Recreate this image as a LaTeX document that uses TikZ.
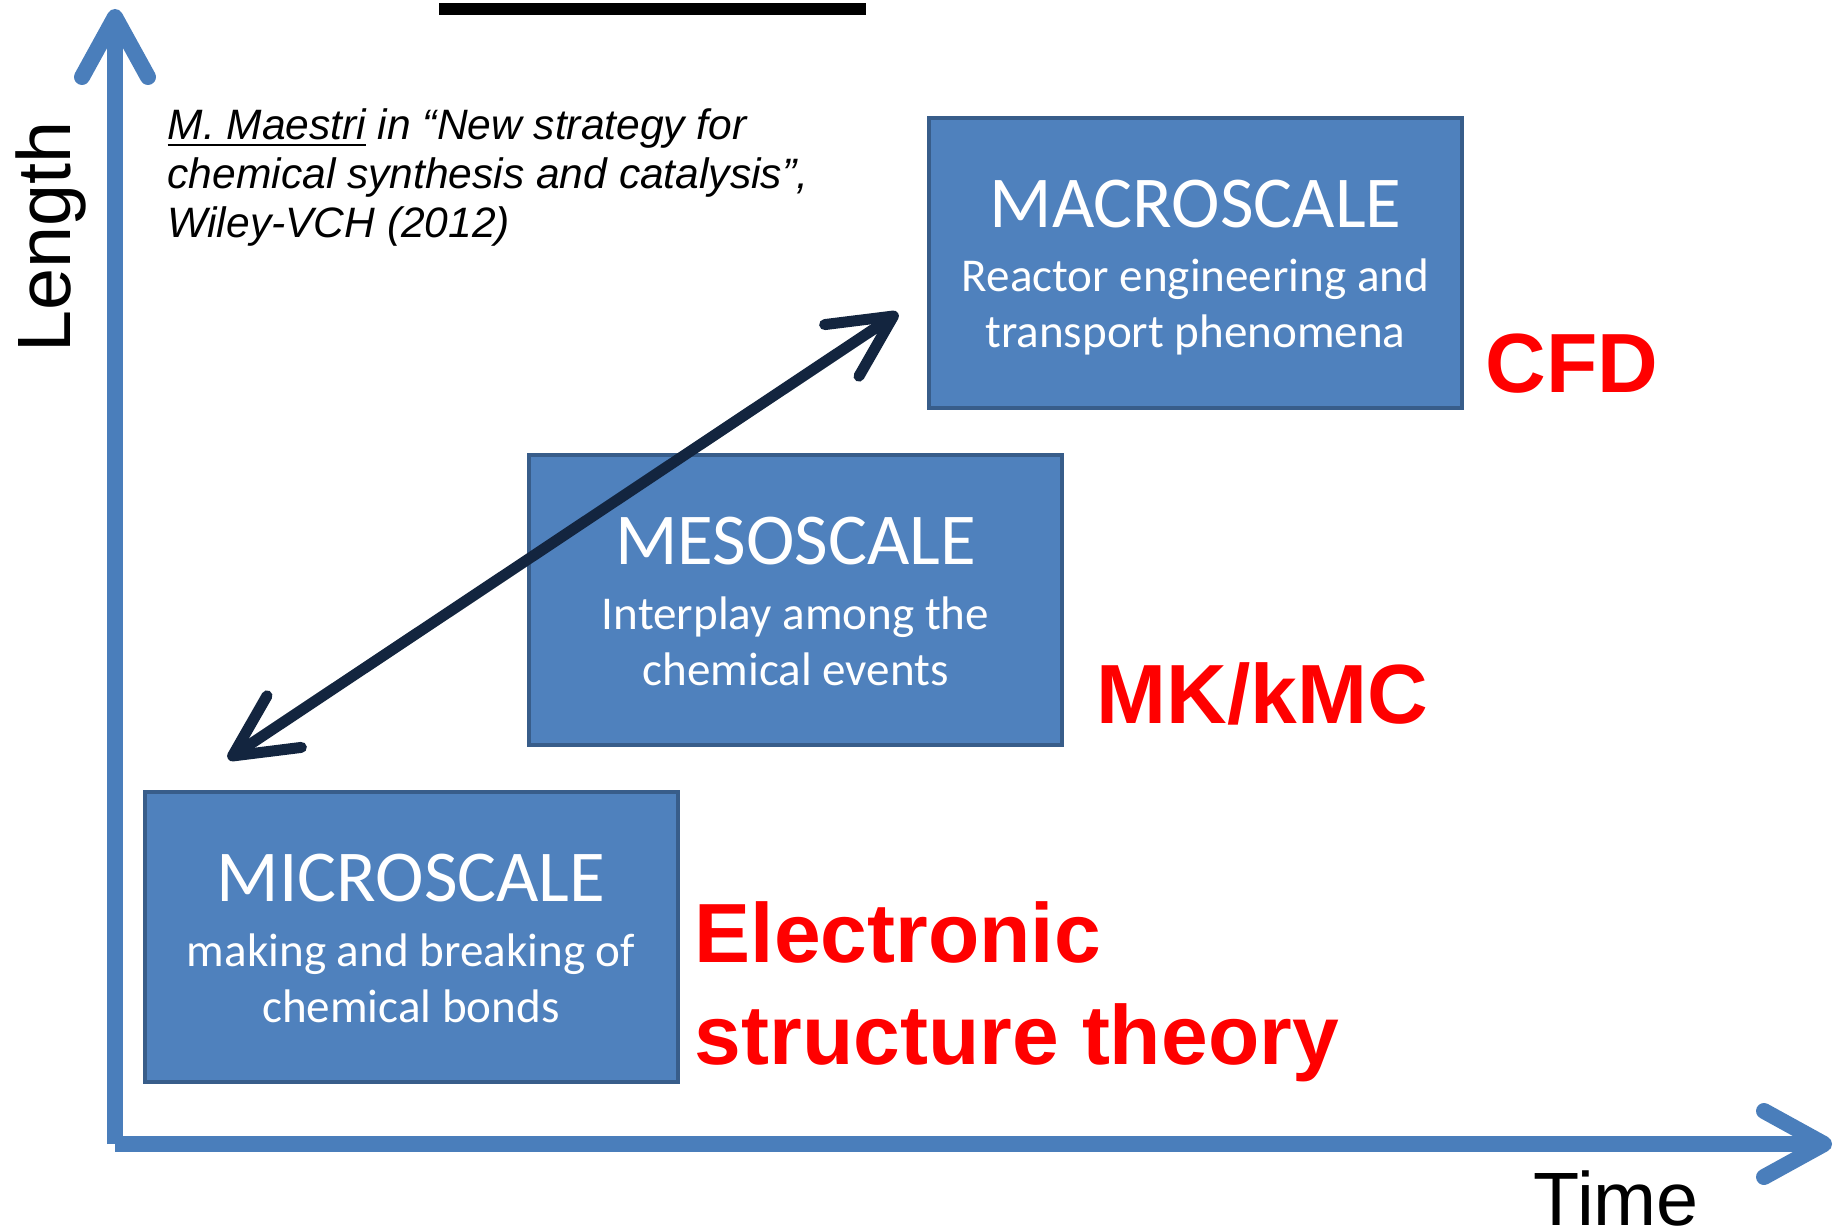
\documentclass[tikz,border=0pt]{standalone}
\usepackage{fontspec}
\setmainfont{Liberation Sans}
\newfontfamily\calibri{Carlito}
\usetikzlibrary{arrows.meta,positioning}
\definecolor{boxfill}{HTML}{4F81BD}
\definecolor{boxline}{HTML}{385D8A}
\definecolor{axisblue}{HTML}{4A7EBB}
\definecolor{navy}{HTML}{13253F}

\begin{document}
\begin{tikzpicture}[x=0.1mm,y=-0.1mm,
    scale box/.style={draw=boxline,fill=boxfill,line width=0.4mm,minimum width=53.3mm,minimum height=29mm,inner sep=0},
    head/.style={anchor=base,inner sep=0,text=white,font=\calibri\fontsize{20.8}{25}\selectfont},
    sub/.style={anchor=base,inner sep=0,text=white,align=center,font=\calibri\fontsize{13.4}{16}\selectfont},
    method/.style={anchor=base west,inner sep=0,text=red,align=left,font=\bfseries\fontsize{23.9}{29}\selectfont},
    axis label/.style={anchor=base,inner sep=0,font=\fontsize{21.5}{25}\selectfont},
    cite/.style={anchor=base west,inner sep=0,align=left,font=\itshape\fontsize{12.1}{14}\selectfont},
    axis/.style={axisblue,line width=1.6mm,-{Straight Barb[length=6mm,width=6.6mm,round]}},
    scale arrow/.style={navy,line width=1.1mm,{Straight Barb[length=6.2mm,width=6.2mm,round]}-{Straight Barb[length=6.2mm,width=6.2mm,round]}}]
    \useasboundingbox (0,0) rectangle (1834,1232);
    % underline of the title, cut off at the top
    \fill (439,3) rectangle (866,15);

    % axes
    \coordinate (O) at (115,1144);
    \coordinate (ytip) at (115,9);
    \coordinate (xtip) at (1832,1144);
    \draw[axis] (O) -- (ytip);
    \draw[axis] (O) -- (xtip);
    \node[axis label,rotate=90] (length) at (70,237) {Length};
    \node[axis label,anchor=base west] (time) at (1533,1225) {Time};

    % multi-line nodes sit on their last baseline
    \node[cite] (ref) at (167,238) {\underline{M. Maestri} in “New strategy for\\chemical synthesis and catalysis”,\\Wiley-VCH (2012)};

    % the three scales
    \node[scale box] (micro) at (411,936.5) {};
    \node[scale box] (meso) at (795.5,599.5) {};
    \node[scale box] (macro) at (1195.5,263) {};
    \node[head] (microhead) at ([yshift=-11.2mm]micro.north) {MICROSCALE};
    \node[sub] (microsub) at ([yshift=-23.3mm]micro.north) {making and breaking of\\chemical bonds};
    \node[head] (mesohead) at ([yshift=-11.2mm]meso.north) {MESOSCALE};
    \node[sub] (mesosub) at ([yshift=-23.3mm]meso.north) {Interplay among the\\chemical events};
    \node[head] (macrohead) at ([yshift=-11.2mm]macro.north) {MACROSCALE};
    \node[sub] (macrosub) at ([yshift=-23.2mm]macro.north) {Reactor engineering and\\transport phenomena};

    \coordinate (lo) at (228,759);
    \coordinate (hi) at (898,313);
    \draw[scale arrow] (lo) -- (hi);

    % methods
    \node[method] (cfd) at (1485,393) {CFD};
    \node[method] (mk) at (1096,723) {MK/kMC};
    \node[method] (est) at (694,1064) {Electronic\\structure theory};
\end{tikzpicture}
\end{document}
